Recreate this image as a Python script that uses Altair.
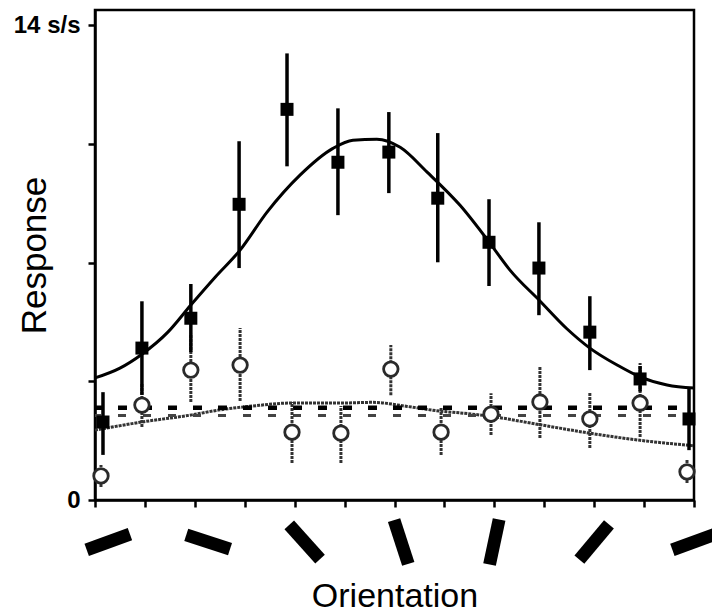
import altair as alt
import pandas as pd

# ---- data (x in degrees of orientation, y in spikes/s) ----
sq_x = [2.4, 14.1, 28.8, 43.3, 57.7, 73.0, 88.3, 103.0, 118.4, 133.4, 148.7, 163.8, 178.5]
sq_y = [2.30, 4.48, 5.36, 8.72, 11.52, 9.96, 10.26, 8.90, 7.60, 6.84, 4.95, 3.57, 2.39]
sq_lo = [1.33, 3.10, 4.36, 6.84, 9.84, 8.40, 9.05, 7.01, 6.31, 5.45, 3.83, 3.20, 1.47]
sq_hi = [3.18, 5.86, 6.37, 10.58, 13.17, 11.55, 11.44, 10.82, 8.87, 8.19, 6.01, 3.95, 3.30]

ci_x = [1.8, 14.1, 28.8, 43.6, 59.2, 73.9, 88.9, 104.0, 119.0, 133.7, 148.7, 163.8, 177.9]
ci_y = [0.71, 2.80, 3.83, 3.98, 2.00, 1.97, 3.86, 2.00, 2.53, 2.89, 2.39, 2.86, 0.83]
ci_lo = [0.38, 2.15, 2.89, 2.92, 1.09, 1.09, 3.09, 1.33, 1.92, 1.83, 1.53, 1.86, 0.50]
ci_hi = [1.03, 3.45, 4.90, 5.07, 2.89, 2.77, 4.57, 2.74, 3.15, 3.92, 3.18, 4.04, 1.18]

fit_x = [0, 7.5, 14.1, 21.9, 28.8, 36.1, 43.6, 51.7, 61.6, 71.5, 77.5, 84.7, 91.7,
         99.8, 109.7, 118.7, 124.7, 133.7, 141.8, 148.7, 156.9, 163.8, 171.9, 180]
fit_y = [3.60, 3.89, 4.30, 4.95, 5.75, 6.57, 7.37, 8.49, 9.58, 10.37, 10.61, 10.64, 10.40,
         9.67, 8.69, 7.57, 6.78, 5.87, 5.05, 4.48, 3.98, 3.63, 3.39, 3.30]

gfit_x = [0, 14.1, 29.1, 37.0, 47.2, 59.2, 73.6, 83.5, 93.8, 103.7, 110.6, 118.7, 133.7, 148.7, 163.8, 180]
gfit_y = [2.06, 2.30, 2.51, 2.65, 2.77, 2.86, 2.86, 2.88, 2.76, 2.62, 2.56, 2.47, 2.22, 1.97, 1.76, 1.60]

base_upper = 2.72
base_lower = 2.49
base_x0 = 0
base_x1 = 180

glyph_x = [4, 34, 63, 92, 120, 150, 180]
glyph_angle = [340, 18, 48, 72, 102, 130, 160]

y_ticks = [0, 3.5, 7, 10.5, 14]
x_ticks = list(range(0, 181, 15))

# ---- tables ----
sq = pd.DataFrame({"x": sq_x, "y": sq_y, "lo": sq_lo, "hi": sq_hi})
ci = pd.DataFrame({"x": ci_x, "y": ci_y, "lo": ci_lo, "hi": ci_hi})
fit = pd.DataFrame({"x": fit_x, "y": fit_y})
gfit = pd.DataFrame({"x": gfit_x, "y": gfit_y})
base_up = pd.DataFrame({"x": [base_x0], "x2": [base_x1], "y": [base_upper]})
base_lo = pd.DataFrame({"x": [base_x0], "x2": [base_x1], "y": [base_lower]})
glyphs = pd.DataFrame({"x": glyph_x, "angle": glyph_angle})

FONT = "Liberation Sans"

xscale = alt.Scale(domain=[0, 180], nice=False, zero=False)
yscale = alt.Scale(domain=[0, 14.45], nice=False)

xaxis = alt.Axis(values=x_ticks, labels=False, grid=False, title="Orientation",
                 titleFontSize=34, titleFont=FONT, titleFontWeight="normal",
                 titleY=106, titleBaseline="alphabetic", titleColor="black",
                 tickSize=7, tickWidth=2.5, tickColor="black",
                 domainColor="black", domainWidth=2.5)
yaxis = alt.Axis(values=y_ticks, grid=False, title="Response",
                 labelExpr="datum.value == 14 ? '14 s/s' : (datum.value == 0 ? '0' : '')",
                 labelFont=FONT, labelFontSize=24, labelFontWeight="bold", labelColor="black",
                 labelPadding=8,
                 titleFontSize=35, titleFont=FONT, titleFontWeight="normal", titleColor="black",
                 titleAngle=270, titleX=-50, titleY=245, titleAlign="center",
                 titleBaseline="alphabetic",
                 tickSize=7, tickWidth=2.5, tickColor="black",
                 domainColor="black", domainWidth=2.5)

X = alt.X("x:Q", scale=xscale, axis=xaxis)
Y = alt.Y("y:Q", scale=yscale, axis=yaxis)

fit_line = alt.Chart(fit).mark_line(color="black", strokeWidth=3, interpolate="monotone").encode(x=X, y=Y)
gfit_line = alt.Chart(gfit).mark_line(color="#333333", strokeWidth=3, strokeDash=[3, 1],
                                      interpolate="monotone").encode(x=X, y=Y)

up_rule = alt.Chart(base_up).mark_rule(color="black", strokeWidth=4.5, strokeDash=[9, 16],
                                       strokeDashOffset=2, strokeCap="butt").encode(
    x=X, x2="x2:Q", y=Y)
lo_rule = alt.Chart(base_lo).mark_rule(color="#444444", strokeWidth=3, strokeDash=[8, 17],
                                       strokeDashOffset=2, strokeCap="butt").encode(
    x=X, x2="x2:Q", y=Y)

ci_err = alt.Chart(ci).mark_rule(color="#333333", strokeWidth=3, strokeDash=[3, 1]).encode(
    x=X, y=alt.Y("lo:Q", scale=yscale, axis=yaxis), y2="hi:Q")
sq_err = alt.Chart(sq).mark_rule(color="black", strokeWidth=3.5).encode(
    x=X, y=alt.Y("lo:Q", scale=yscale, axis=yaxis), y2="hi:Q")

ci_pts = alt.Chart(ci).mark_point(shape="circle", size=210, filled=False, fill="white",
                                  fillOpacity=1, stroke="#2a2a2a", strokeWidth=2.8,
                                  opacity=1).encode(x=X, y=Y)
sq_pts = alt.Chart(sq).mark_point(shape="square", size=169, filled=True, color="black",
                                  opacity=1).encode(x=X, y=Y)

bar_path = "M -1 -0.28 L 1 -0.28 L 1 0.28 L -1 0.28 Z"
glyph_marks = alt.Chart(glyphs).mark_point(shape=bar_path, size=2116, filled=True,
                                           color="black", opacity=1).encode(
    x=X, y=alt.value(532), angle=alt.Angle("angle:Q", scale=None))

chart = alt.layer(
    fit_line, gfit_line, lo_rule, up_rule, ci_err, sq_err, ci_pts, sq_pts, glyph_marks
).properties(
    width=599, height=490,
    padding={"left": 87, "top": 2, "right": 18, "bottom": 116},
    autosize=alt.AutoSizeParams(type="none"),
    background="white",
).configure_view(stroke="black", strokeWidth=2.5)

chart.save("out.html", embed_options={"renderer": "svg", "actions": False})
